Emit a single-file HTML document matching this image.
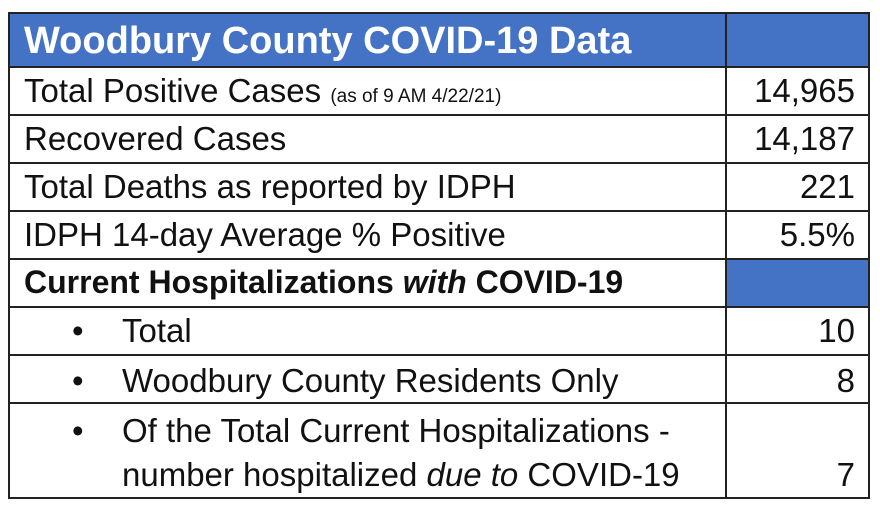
<!DOCTYPE html>
<html><head><style>
body{margin:0;width:880px;height:510px;background:#fff;position:relative;font-family:"Liberation Sans",sans-serif;color:#111;overflow:hidden}
.l{position:absolute;background:#222}
.t{position:absolute;font-size:33px;white-space:nowrap;line-height:36px}
.r{text-align:right;right:25px}
</style></head><body>
<div style="position:absolute;left:9px;top:13px;width:860px;height:54px;background:#4472C4"></div>
<div style="position:absolute;left:726px;top:259px;width:143px;height:48px;background:#4472C4"></div>
<div class="l" style="left:8px;top:12px;width:2px;height:487px"></div>
<div class="l" style="left:868px;top:12px;width:2px;height:487px"></div>
<div class="l" style="left:725px;top:12px;width:2px;height:487px"></div>
<div class="l" style="left:8px;top:12px;width:862px;height:2px"></div>
<div class="l" style="left:8px;top:66px;width:862px;height:2px"></div>
<div class="l" style="left:8px;top:114px;width:862px;height:2px"></div>
<div class="l" style="left:8px;top:162px;width:862px;height:2px"></div>
<div class="l" style="left:8px;top:210px;width:862px;height:2px"></div>
<div class="l" style="left:8px;top:258px;width:862px;height:2px"></div>
<div class="l" style="left:8px;top:306px;width:862px;height:2px"></div>
<div class="l" style="left:8px;top:354px;width:862px;height:2px"></div>
<div class="l" style="left:8px;top:402px;width:862px;height:2px"></div>
<div class="l" style="left:8px;top:497px;width:862px;height:2px"></div>
<div class="t" style="left:24px;top:20px;color:#fff;font-weight:bold;font-size:38px;line-height:42px">Woodbury County COVID-19 Data</div>
<div class="t" style="left:24px;top:73px">Total Positive Cases <span style="font-size:19px">(as of 9 AM 4/22/21)</span></div>
<div class="t r" style="top:73px">14,965</div>
<div class="t" style="left:24px;top:121px">Recovered Cases</div>
<div class="t r" style="top:121px">14,187</div>
<div class="t" style="left:24px;top:169px">Total Deaths as reported by IDPH</div>
<div class="t r" style="top:169px">221</div>
<div class="t" style="left:24px;top:217px">IDPH 14-day Average % Positive</div>
<div class="t r" style="top:217px">5.5%</div>
<div class="t" style="left:24px;top:264px;font-weight:bold;font-size:32px">Current Hospitalizations <i>with</i> COVID-19</div>
<div class="t" style="left:72px;top:313px">•</div><div class="t" style="left:122px;top:313px">Total</div>
<div class="t r" style="top:313px">10</div>
<div class="t" style="left:72px;top:363px">•</div><div class="t" style="left:122px;top:363px">Woodbury County Residents Only</div>
<div class="t r" style="top:363px">8</div>
<div class="t" style="left:72px;top:413px">•</div><div class="t" style="left:122px;top:413px">Of the Total Current Hospitalizations -</div>
<div class="t" style="left:122px;top:457px">number hospitalized <i>due to</i> COVID-19</div>
<div class="t r" style="top:457px">7</div>
</body></html>
